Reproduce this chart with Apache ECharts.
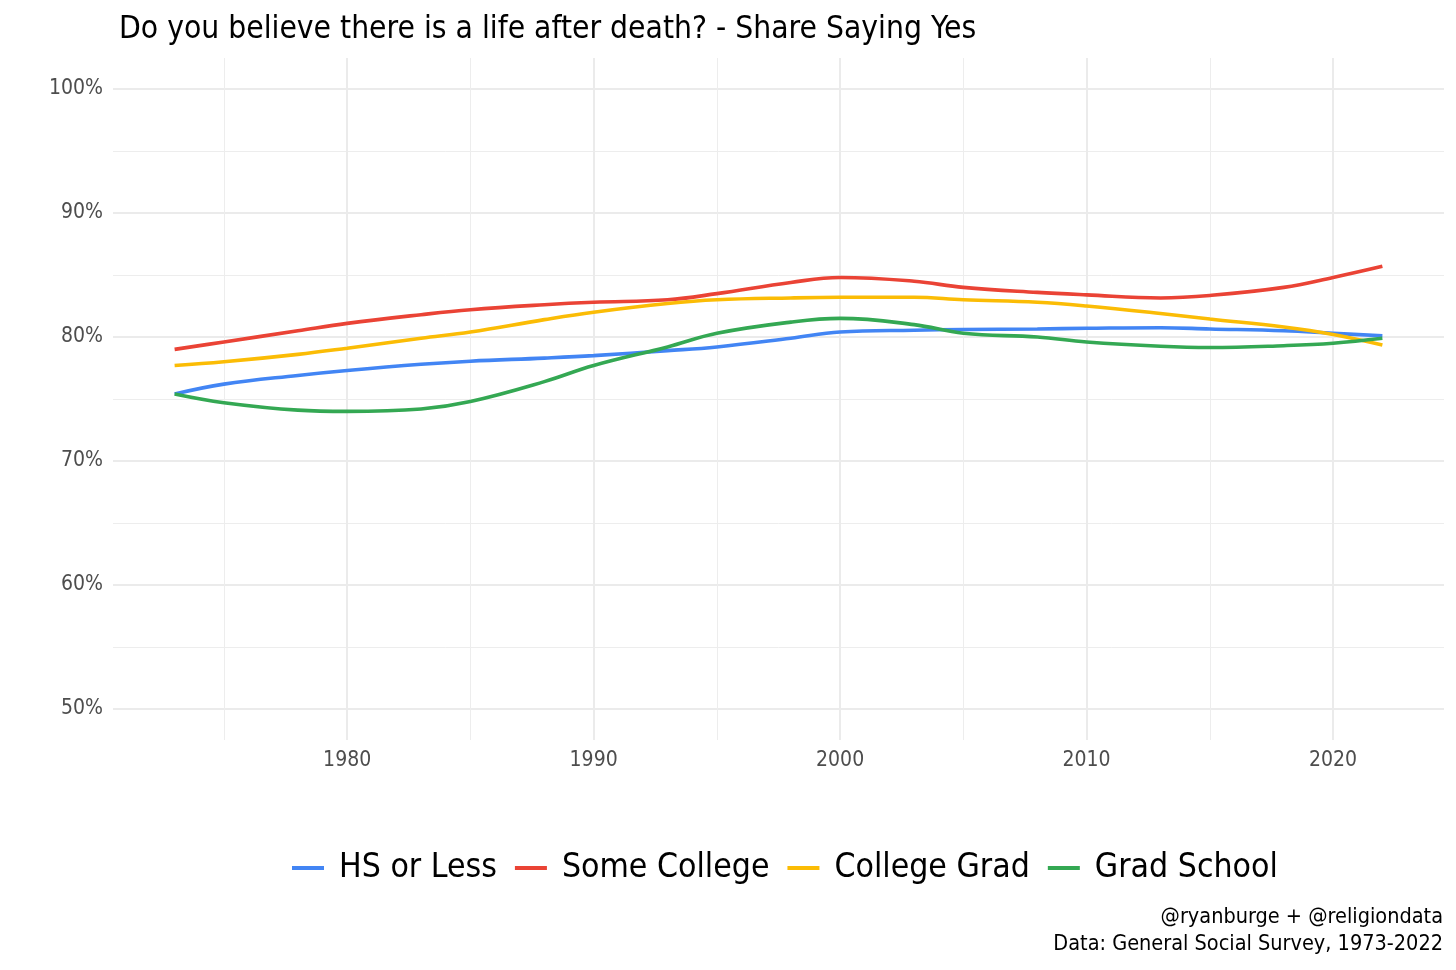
<!DOCTYPE html>
<html>
<head>
<meta charset="utf-8">
<script src="https://cdn.jsdelivr.net/npm/echarts@6/dist/echarts.min.js"></script>
<style>
html,body{margin:0;padding:0;background:#fff;}
#c{width:1456px;height:970px;}
</style>
</head>
<body>
<div id="c"></div>
<script>
const years = [1973, 1975, 1978, 1980, 1983, 1985, 1988, 1990, 1993, 1995, 1998, 2000, 2003, 2005, 2008, 2010, 2013, 2015, 2018, 2020, 2022];
const hsOrLess = [75.4, 76.2, 76.9, 77.3, 77.8, 78.05, 78.3, 78.5, 78.9, 79.2, 79.9, 80.4, 80.55, 80.6, 80.65, 80.7, 80.75, 80.65, 80.5, 80.3, 80.1];
const someCollege = [79.0, 79.6, 80.5, 81.1, 81.8, 82.2, 82.6, 82.8, 83.0, 83.5, 84.4, 84.8, 84.5, 84.0, 83.6, 83.4, 83.15, 83.35, 84.0, 84.8, 85.7];
const collegeGrad = [77.7, 78.0, 78.6, 79.1, 79.9, 80.4, 81.4, 82.0, 82.7, 83.0, 83.15, 83.2, 83.2, 83.0, 82.8, 82.5, 81.9, 81.45, 80.8, 80.2, 79.35];
const gradSchool = [75.4, 74.7, 74.1, 74.0, 74.2, 74.8, 76.4, 77.7, 79.2, 80.3, 81.2, 81.5, 81.0, 80.3, 80.0, 79.6, 79.25, 79.15, 79.3, 79.5, 79.9];
const seriesNames = ['HS or Less', 'Some College', 'College Grad', 'Grad School'];
const seriesColors = ['#4285F4', '#EA4335', '#FBBC05', '#34A853'];
const titleText = 'Do you believe there is a life after death? - Share Saying Yes';
const captionLines = ['@ryanburge + @religiondata', 'Data: General Social Survey, 1973-2022'];

const FONT = '"Liberation Sans Narrow", "DejaVu Sans Condensed", "Roboto", sans-serif';
const T = 'rgba(0,0,0,0)';
const MAJ = '#ebebeb';
const MIN = '#ededed';

function pairs(vals){ return years.map((y,i)=>[y, vals[i]]); }
const allVals = [hsOrLess, someCollege, collegeGrad, gradSchool];

// x: ticks every 0.5 from 1970.5; index 9 -> xx75 (minor), 19 -> xx80 (major)
const xMajColors = [], xMinColors = [];
for (let i=0;i<20;i++){ xMajColors.push(i===19?MAJ:T); xMinColors.push(i===9?MIN:T); }
// y: ticks every 2.5 from 47.5; index 1 -> 50 (major), 3 -> 55 (minor)
const yMajColors = [T, MAJ, T, T], yMinColors = [T, T, T, MIN];

const xBase = {type:'value', min:1970.5, max:2024.5, interval:0.5,
  axisLine:{show:false}, axisTick:{show:false}};
const yBase = {type:'value', min:47.5, max:102.5, interval:2.5,
  axisLine:{show:false}, axisTick:{show:false}};

const chart = echarts.init(document.getElementById('c'), null, {renderer:'canvas'});
chart.setOption({
  backgroundColor:'#fff',
  animation:false,
  title:{
    text:titleText, left:114, top:9,
    textStyle:{fontFamily:FONT, fontSize:31.5, fontWeight:'normal', color:'#000'}
  },
  grid:{left:113, right:12, top:58, bottom:230, containLabel:false},
  xAxis:[
    Object.assign({}, xBase, {
      splitLine:{show:true, lineStyle:{color:xMajColors, width:2}},
      axisLabel:{interval:0, margin:10, fontFamily:FONT, fontSize:21, color:'#4d4d4d',
        formatter:v=> (Math.abs(v%10)<1e-6 && v>1975 && v<2024) ? String(Math.round(v)) : ''}
    }),
    Object.assign({}, xBase, {
      splitLine:{show:true, lineStyle:{color:xMinColors, width:1}},
      axisLabel:{show:false}
    })
  ],
  yAxis:[
    Object.assign({}, yBase, {
      splitLine:{show:true, lineStyle:{color:yMajColors, width:2}},
      axisLabel:{interval:0, margin:10, fontFamily:FONT, fontSize:21, color:'#4d4d4d',
        formatter:v=> (Math.abs(v%10)<1e-6) ? Math.round(v)+'%' : ''}
    }),
    Object.assign({}, yBase, {
      position:'left',
      splitLine:{show:true, lineStyle:{color:yMinColors, width:1}},
      axisLabel:{show:false}
    })
  ],
  legend:{
    data:seriesNames, left:287, top:846, itemWidth:32, itemHeight:4, itemGap:18,
    icon:'rect',
    textStyle:{fontFamily:FONT, fontSize:33.5, color:'#000', padding:[0,0,0,10]}
  },
  graphic:[
    {type:'text', right:13, top:906, style:{text:captionLines[0], fontFamily:FONT, fontSize:21.5, fill:'#000', textAlign:'right'}},
    {type:'text', right:13, top:933, style:{text:captionLines[1], fontFamily:FONT, fontSize:21.5, fill:'#000', textAlign:'right'}}
  ],
  series: seriesNames.map((n,i)=>({
    name:n, type:'line', xAxisIndex:0, yAxisIndex:0,
    data:pairs(allVals[i]), smooth:0.4, showSymbol:false, symbol:'none',
    lineStyle:{width:3.6, color:seriesColors[i]}, itemStyle:{color:seriesColors[i]}
  }))
});
</script>
</body>
</html>
